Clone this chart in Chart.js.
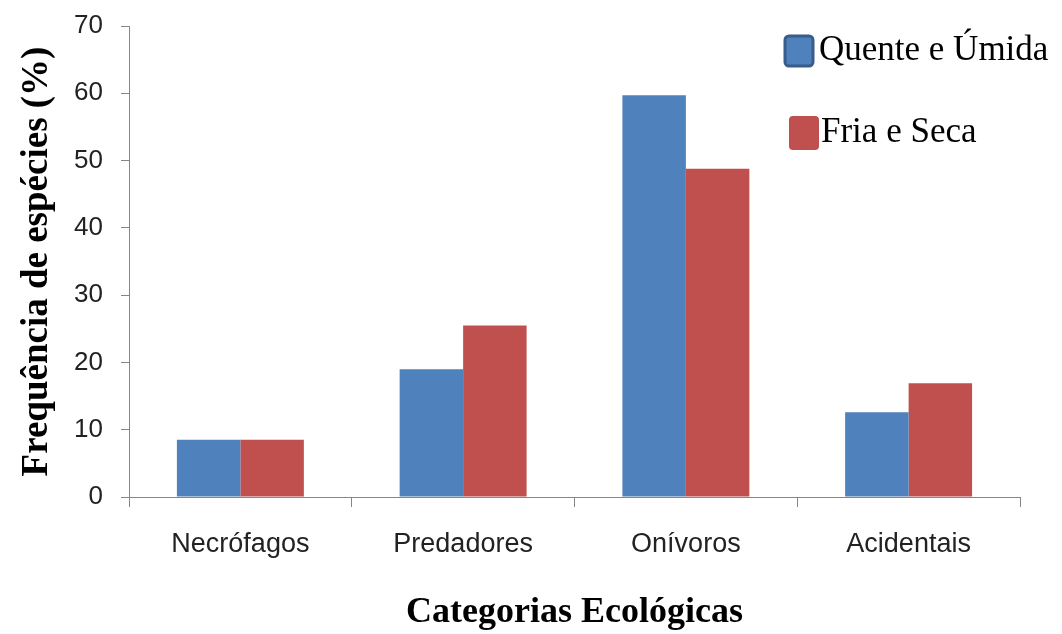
<!DOCTYPE html>
<html>
<head>
<meta charset="utf-8">
<script src="https://cdn.jsdelivr.net/npm/chart.js@4"></script>
<style>
  body { margin: 0; background: #fff; }
</style>
</head>
<body>
<canvas id="ecoChart" width="1062" height="634"></canvas>
<script>
const categories = ['Necrófagos', 'Predadores', 'Onívoros', 'Acidentais'];
const quenteUmida = [8.5, 19, 59.7, 12.6];
const friaSeca = [8.5, 25.5, 48.8, 16.9];
const seriesNames = ['Quente e Úmida', 'Fria e Seca'];
const yTicks = [0, 10, 20, 30, 40, 50, 60, 70];

const AXIS = '#868686';

// legend drawn at the top right, stacked, like the original
const sideLegend = {
  id: 'sideLegend',
  afterDraw(chart) {
    const ctx = chart.ctx;
    const spots = [
      { bx: 785, by: 36, bw: 28, bh: 30, ty: 51, tx: 819, border: '#385D8A' },
      { bx: 789, by: 116, bw: 30, bh: 34, ty: 133, tx: 821, border: null }
    ];
    ctx.save();
    chart.data.datasets.forEach((ds, i) => {
      const s = spots[i];
      ctx.beginPath();
      ctx.roundRect(s.bx, s.by, s.bw, s.bh, 4);
      ctx.fillStyle = ds.backgroundColor;
      ctx.fill();
      if (s.border) {
        ctx.lineWidth = 3;
        ctx.strokeStyle = s.border;
        ctx.stroke();
      }
      ctx.fillStyle = '#000';
      ctx.font = '35px "Liberation Serif", "Times New Roman", serif';
      ctx.textBaseline = 'middle';
      ctx.textAlign = 'left';
      ctx.fillText(ds.label, s.tx, s.ty);
    });
    ctx.restore();
  }
};

new Chart(document.getElementById('ecoChart').getContext('2d'), {
  type: 'bar',
  data: {
    labels: categories,
    datasets: [
      { label: seriesNames[0], data: quenteUmida, backgroundColor: '#4F81BD' },
      { label: seriesNames[1], data: friaSeca, backgroundColor: '#C0504D' }
    ]
  },
  options: {
    responsive: false,
    animation: false,
    layout: { padding: { left: 0, right: 42, top: 26, bottom: 0 } },
    datasets: {
      bar: { categoryPercentage: 0.57, barPercentage: 1.0 }
    },
    plugins: {
      legend: { display: false },
      tooltip: { enabled: false }
    },
    scales: {
      x: {
        grid: { offset: true, drawOnChartArea: false, drawTicks: true, tickLength: 10, color: AXIS },
        border: { display: true, color: AXIS },
        ticks: {
          color: '#222',
          padding: 21,
          font: { family: '"Liberation Sans", Arial, sans-serif', size: 27 }
        },
        title: {
          display: true,
          text: 'Categorias Ecológicas',
          color: '#000',
          padding: { top: 0, bottom: 0 },
          font: { family: '"Liberation Serif", "Times New Roman", serif', size: 36, weight: 'bold' }
        },
        afterFit(scale) { scale.height = 137; }
      },
      y: {
        min: 0,
        max: 70,
        afterBuildTicks(scale) { scale.ticks = yTicks.map(v => ({ value: v })); },
        grid: { drawOnChartArea: false, drawTicks: true, tickLength: 8, color: AXIS },
        border: { display: true, color: AXIS },
        ticks: {
          color: '#222',
          padding: 18,
          font: { family: '"Liberation Sans", Arial, sans-serif', size: 26 }
        },
        title: {
          display: true,
          text: 'Frequência de espécies (%)',
          color: '#000',
          padding: { top: 15, bottom: 0 },
          font: { family: '"Liberation Serif", "Times New Roman", serif', size: 37, weight: 'bold' }
        },
        afterFit(scale) {
          scale.width = 129;
          // tick padding would otherwise push the plot top down
          scale.paddingTop = 0;
          scale.paddingBottom = 0;
        }
      }
    }
  },
  plugins: [sideLegend]
});
</script>
</body>
</html>
